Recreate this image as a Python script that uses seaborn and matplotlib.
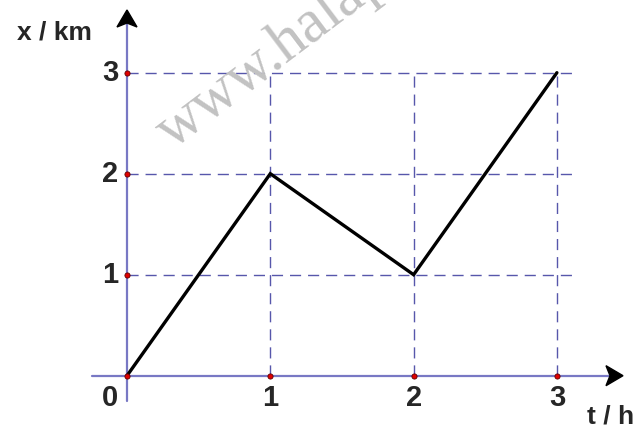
import matplotlib
matplotlib.use("Agg")
import matplotlib.pyplot as plt
import seaborn as sns
import pandas as pd
from matplotlib.patches import Polygon

# data
t_vals = [0, 1, 2, 3]
x_vals = [0, 2, 1, 3]
x_ticks = [0, 1, 2, 3]
y_ticks = [1, 2, 3]
x_tick_labels = ["0", "1", "2", "3"]
y_tick_labels = ["1", "2", "3"]
x_label = "t / h"
y_label = "x / km"
watermark = "www.halapa.com"

sns.set_style("white")
plt.rcParams['font.family'] = ['Liberation Sans', 'DejaVu Sans']

W, H = 640, 430
fig = plt.figure(figsize=(6.4, 4.3), dpi=100)
ax = fig.add_axes([0, 0, 1, 1])
ox, oy = 127, 375.7
sx, sy = 143.3, 101.0
ax.set_xlim(-ox / sx, (W - ox) / sx)
ax.set_ylim(-(H - oy) / sy, oy / sy)
ax.axis('off')
px = 1 / sx
py = 1 / sy

axis_col = '#7878c4'
grid_col = '#3a3a9c'

# watermark
fig.text(172 / W, 1 - 150 / H, watermark, family='Liberation Serif', fontsize=44,
         color='#c2c2c2', rotation=37, rotation_mode='anchor', ha='left', va='baseline',
         zorder=0)

# dashed guides
for yv in y_ticks:
    ax.plot([0, 3.14], [yv, yv], color=grid_col, lw=1.0, ls=(0, (8, 5)), alpha=0.85, zorder=1)
for xv in x_ticks[1:]:
    ax.plot([xv, xv], [0, max(y_ticks)], color=grid_col, lw=1.0, ls=(0, (8, 5)), alpha=0.85, zorder=1)

# axes lines
ax.plot([-35 * px, (623 - ox - 14) * px], [0, 0], color=axis_col, lw=1.6, zorder=2)
ax.plot([0, 0], [-25 * py, (oy - 10 - 14) * py], color=axis_col, lw=1.6, zorder=2)

# arrow heads
tipx = (623 - ox) * px
ax.add_patch(Polygon([[tipx, 0], [tipx - 17 * px, 10 * py], [tipx - 13 * px, 0],
                      [tipx - 17 * px, -10 * py]], closed=True, color='black', zorder=3))
tipy = (oy - 10) * py
ax.add_patch(Polygon([[0, tipy], [10 * px, tipy - 17 * py], [0, tipy - 13 * py],
                      [-10 * px, tipy - 17 * py]], closed=True, color='black', zorder=3))

# data line
df = pd.DataFrame({'t': t_vals, 'x': x_vals})
sns.lineplot(data=df, x='t', y='x', color='black', lw=2.4, ax=ax, zorder=4,
             solid_joinstyle='miter', legend=False)

# tick dots
dots = pd.DataFrame({'t': x_ticks + [0] * len(y_ticks), 'x': [0] * len(x_ticks) + y_ticks})
sns.scatterplot(data=dots, x='t', y='x', color='#e00000', edgecolor='#600000',
                s=14, linewidth=0.6, ax=ax, zorder=5, legend=False)
ax.axis('off')

# tick labels
for xv, lab in zip(x_ticks, x_tick_labels):
    off = -17 * px if xv == 0 else 0
    ax.text(xv + off, -22 * py, lab, fontsize=21, fontweight='bold', ha='center', va='center')
for yv, lab in zip(y_ticks, y_tick_labels):
    ax.text(-17 * px, yv, lab, fontsize=21, fontweight='bold', ha='center', va='center')

ax.text((611 - ox) * px, -(417 - oy) * py, x_label, fontsize=19, fontweight='bold',
        ha='center', va='center')
ax.text((54 - ox) * px, (oy - 32) * py, y_label, fontsize=19, fontweight='bold',
        ha='center', va='center')

fig.savefig('out.png', dpi=100)
